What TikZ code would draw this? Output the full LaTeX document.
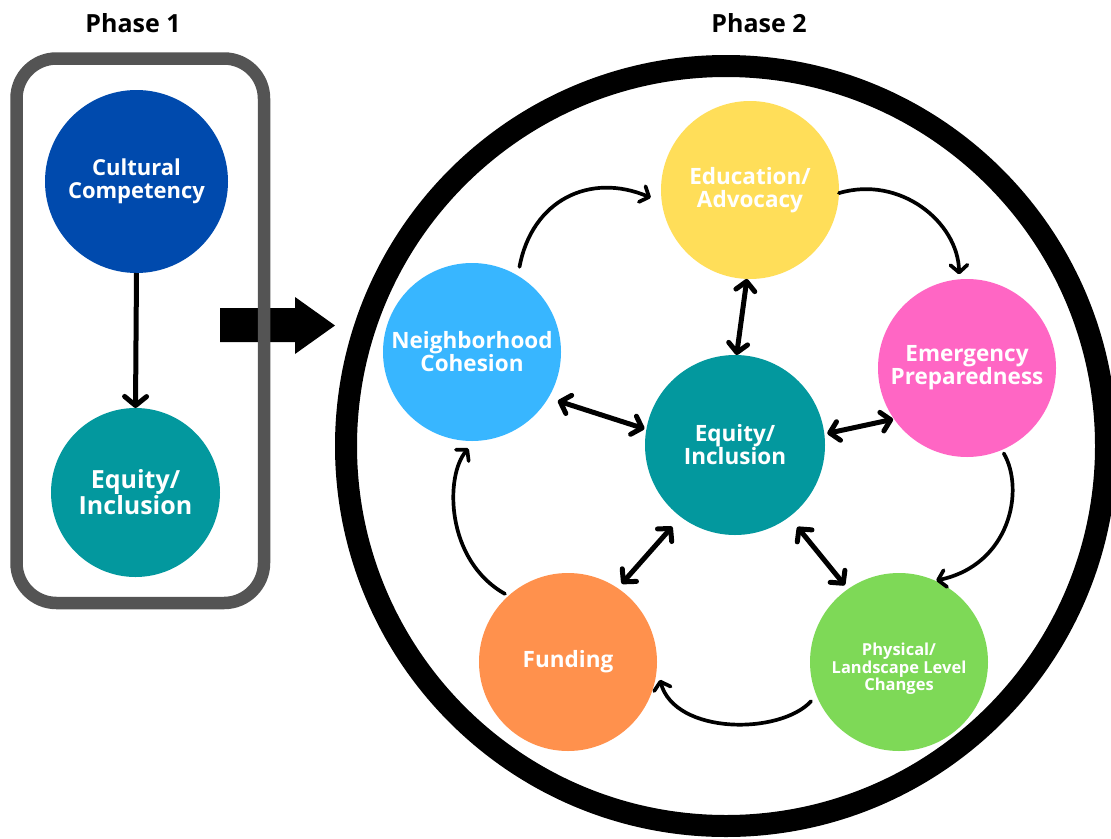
\documentclass[tikz,border=0pt]{standalone}
\usepackage{fontspec}
\setmainfont{Open Sans}
\usetikzlibrary{arrows.meta}
\definecolor{ccblue}{HTML}{004AAD}
\definecolor{eqteal}{HTML}{03989E}
\definecolor{eduyellow}{HTML}{FFDE59}
\definecolor{neighblue}{HTML}{38B6FF}
\definecolor{emerpink}{HTML}{FF66C4}
\definecolor{fundorange}{HTML}{FF914D}
\definecolor{physgreen}{HTML}{7ED957}
\definecolor{boxgray}{HTML}{545454}
\begin{document}
\begin{tikzpicture}[x=1pt,y=-1pt,
  bubble/.style={circle, inner sep=0pt, outer sep=0pt, text=white, align=center,
    font=\bfseries\fontsize{22.5}{23}\selectfont},
  phaselabel/.style={font=\bfseries\fontsize{25}{30}\selectfont, text=black, inner sep=0pt},
  dbl/.style={line width=5pt, line cap=round,
    {Straight Barb[length=9pt,width=19pt,round]}-{Straight Barb[length=9pt,width=19pt,round]}},
  cyc/.style={line width=3.7pt, line cap=round, -{Straight Barb[length=7.5pt,width=17pt,round]}}]
\useasboundingbox (0,0) rectangle (1111,838);
\fill[white] (0,0) rectangle (1111,838);

% Phase labels
\node[phaselabel] (p1) at (133,23) {Phase 1};
\node[phaselabel] (p2) at (759,23) {Phase 2};

% big arrow
\fill[black] (220,308) -- (295,308) -- (295,297) -- (335,325.5) -- (295,354) -- (295,342) -- (220,342) -- cycle;

% Phase 1 box
\node[draw=boxgray, line width=12.5pt, rounded corners=40pt, minimum width=247.5pt,
  minimum height=544.5pt, inner sep=0pt] (box) at (140.25,330.75) {};

% Phase 1 nodes
\node[bubble, fill=ccblue, minimum size=183pt, font=\bfseries\fontsize{22}{23}\selectfont] (cc) at (136.5,181.5) {Cultural\\Competency};
\node[bubble, fill=eqteal, minimum size=169pt, font=\bfseries\fontsize{25}{26}\selectfont] (eq1) at (135.5,492.5) {Equity/\\Inclusion};
\draw[line width=5pt, -{Straight Barb[length=9pt,width=22pt,round]}] (cc.south) -- (eq1.north);

% Phase 2 ring
\node[circle, draw=black, line width=22pt, minimum size=760pt, inner sep=0pt] (ring) at (726,446) {};

% Phase 2 nodes
\node[bubble, fill=eduyellow, minimum size=178pt] (edu) at (750,190) {Education/\\Advocacy};
\node[bubble, fill=neighblue, minimum size=178pt] (neigh) at (472,352) {Neighborhood\\Cohesion};
\node[bubble, fill=emerpink, minimum size=178pt] (emer) at (967,368) {Emergency\\Preparedness};
\node[bubble, fill=eqteal, minimum size=180pt] (eq) at (735,445) {Equity/\\Inclusion};
\node[bubble, fill=fundorange, minimum size=178pt] (fund) at (568,662) {Funding};
\node[bubble, fill=physgreen, minimum size=178pt] (phys) at (899,662) {};
\node[text=white, align=center, inner sep=0pt, font=\bfseries\fontsize{16.5}{17.5}\selectfont] (phystext) at (899,669) {Physical/\\Landscape Level\\Changes};

% double arrows
\draw[dbl] (eq.89) -- (edu.-92);
\draw[dbl, shorten <=2pt, shorten >=10pt] (eq.170) -- (neigh.-31);
\draw[dbl, shorten <=3pt, shorten >=1pt] (eq.7) -- (emer.215);
\draw[dbl, shorten <=13pt, shorten >=6pt] (eq.233) -- (fund.56);
\draw[dbl, shorten <=13pt, shorten >=5pt] (eq.-53) -- (phys.125);

% cycle arrows
\draw[cyc, shorten <=9pt, shorten >=12pt] (neigh.59) .. controls (532,200) and (590,172) .. (edu.188.5);
\draw[cyc, shorten >=5pt] (edu.-2) .. controls (900,175) and (958,222) .. (emer.95.5);
\draw[cyc, shorten <=4pt, shorten >=1pt] (emer.-67) .. controls (1025,490) and (1010,565) .. (phys.66.6);
\draw[cyc, shorten <=8pt, shorten >=12pt] (phys.202) .. controls (780,735) and (675,735) .. (fund.-4);
\draw[cyc, shorten <=4pt, shorten >=10pt] (fund.132) .. controls (445,560) and (445,475) .. (neigh.-88);
\end{tikzpicture}
\end{document}
